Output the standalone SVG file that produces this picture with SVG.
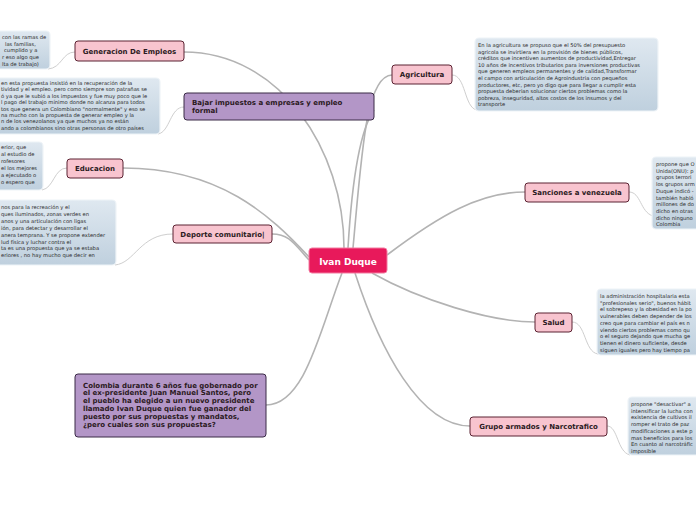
<svg xmlns="http://www.w3.org/2000/svg" width="696" height="520" viewBox="0 0 696 520">
<defs>
<linearGradient id="note" x1="0" y1="0" x2="0" y2="1">
<stop offset="0" stop-color="#dfe8f0"/>
<stop offset="1" stop-color="#bfd0de"/>
</linearGradient>
<style>
.bg{fill:#ffffff}
.main{fill:none;stroke:#b3b3b3;stroke-width:1.6}
.sub{fill:none;stroke:#cfcfcf;stroke-width:1}
.note{fill:url(#note);stroke:#eef3f7;stroke-width:1.2}
.nt{font-family:"DejaVu Sans",Verdana,sans-serif;font-size:5.2px;fill:#2a2a2a}
.pink{fill:#f8c4cf;stroke:#5b2232;stroke-width:1}
.purple{fill:#b396c7;stroke:#3a2a46;stroke-width:1}
.lbl{font-family:"DejaVu Sans",Verdana,sans-serif;font-size:7px;font-weight:bold;fill:#2b1a22}
.center{fill:#e8195b;stroke:#f27aa0;stroke-width:1}
.ctext{font-family:"DejaVu Sans",Verdana,sans-serif;font-size:9px;font-weight:bold;fill:#ffffff}
</style>
</defs>
<rect class="bg" x="0" y="0" width="696" height="520"/>

<g id="connectors">
<path class="main" d="M344,248 C344,150 280,52 184,52"/>
<path class="main" d="M348,248 C352,180 360,130 374,110"/>
<path class="main" d="M353,248 C362,150 366,76 392,75"/>
<path class="main" d="M309,257 C270,215 220,168 123,168"/>
<path class="main" d="M309,260 C295,245 290,234 272,234"/>
<path class="main" d="M342,273 C320,330 305,405 266,405"/>
<path class="main" d="M387,255 C440,215 480,192 525,192"/>
<path class="main" d="M372,273 C420,300 490,322 535,322"/>
<path class="main" d="M355,273 C380,350 420,426 470,426"/>
<path class="sub" d="M75,52 C62,52 62,68 48,69"/>
<path class="sub" d="M184,107 C170,107 170,132 158,134"/>
<path class="sub" d="M67,168 C54,168 54,188 42,190"/>
<path class="sub" d="M173,234 C140,234 135,263 115,265"/>
<path class="sub" d="M452,75 C466,75 464,108 477,110"/>
<path class="sub" d="M629,192 C641,192 640,212 653,216"/>
<path class="sub" d="M572,322 C586,322 584,352 598,354"/>
<path class="sub" d="M607,426 C618,426 617,452 630,455"/>
</g>

<g id="note-empleos">
<rect class="note" x="-20" y="31" width="70" height="38" rx="4"/>
<text class="nt" x="2" y="39">con las ramas de</text>
<text class="nt" x="5" y="45.7">las familias,</text>
<text class="nt" x="4" y="52.4">cumplido y a</text>
<text class="nt" x="2" y="59.1">r eso algo que</text>
<text class="nt" x="2" y="65.8">lta de trabajo)</text>
</g>

<g id="note-impuestos">
<rect class="note" x="-20" y="78" width="180" height="56" rx="4"/>
<text class="nt" x="1" y="85">en esta propuesta insistió en la recuperación de la</text>
<text class="nt" x="1" y="91.4">tividad y el empleo. pero como siempre son patrañas se</text>
<text class="nt" x="1" y="97.8">ó ya que le subió a los impuestos y fue muy poco que le</text>
<text class="nt" x="1" y="104.2">l pago del trabajo mínimo donde no alcanza para todos</text>
<text class="nt" x="1" y="110.6">tos que genera un Colombiano "normalmente" y eso se</text>
<text class="nt" x="1" y="117">na mucho con la propuesta de generar empleo y la</text>
<text class="nt" x="1" y="123.4">n de los venezolanos ya que muchos ya no están</text>
<text class="nt" x="1" y="129.8">ando a colombianos sino otras personas de otro países</text>
</g>

<g id="note-educacion">
<rect class="note" x="-20" y="142" width="63" height="48" rx="4"/>
<text class="nt" x="1" y="149">erior, que</text>
<text class="nt" x="1" y="156">al estudio de</text>
<text class="nt" x="1" y="163">rofesores</text>
<text class="nt" x="1" y="170">el los mejores</text>
<text class="nt" x="1" y="177">a ejecutado o</text>
<text class="nt" x="1" y="184">o espero que</text>
</g>

<g id="note-deporte">
<rect class="note" x="-20" y="200" width="136" height="65" rx="4"/>
<text class="nt" x="1" y="209">nos para la recreación y el</text>
<text class="nt" x="1" y="215.9">ques iluminados, zonas verdes en</text>
<text class="nt" x="1" y="222.8">anos y una articulación con ligas</text>
<text class="nt" x="1" y="229.7">ión, para detectar y desarrollar el</text>
<text class="nt" x="1" y="236.6">anera temprana. Y se propone extender</text>
<text class="nt" x="1" y="243.5">lud física y luchar contra el</text>
<text class="nt" x="1" y="250.4">ta es una propuesta que ya se estaba</text>
<text class="nt" x="1" y="257.3">eriores , no hay mucho que decir en</text>
</g>

<g id="note-agricultura">
<rect class="note" x="475" y="38" width="183" height="73" rx="4"/>
<text class="nt" x="478" y="47">En la agricultura se propuso que el 50% del presupuesto</text>
<text class="nt" x="478" y="53.6">agricola se invirtiera en la provisión de bienes públicos,</text>
<text class="nt" x="478" y="60.2">créditos que incentiven aumentos de productividad,Entregar</text>
<text class="nt" x="478" y="66.8">10 años de incentivos tributarios para inversiones productivas</text>
<text class="nt" x="478" y="73.4">que generen empleos permanentes y de calidad,Transformar</text>
<text class="nt" x="478" y="80">el campo con articulación de Agroindustria con pequeños</text>
<text class="nt" x="478" y="86.6">productores, etc, pero yo digo que para llegar a cumplir esta</text>
<text class="nt" x="478" y="93.2">propuesta deberian solucionar ciertos problemas como la</text>
<text class="nt" x="478" y="99.8">pobreza, inseguridad, altos costos de los insumos y del</text>
<text class="nt" x="478" y="106.4">transporte</text>
</g>

<g id="note-sanciones">
<rect class="note" x="652" y="157" width="60" height="72" rx="4"/>
<text class="nt" x="656" y="166">propone que O</text>
<text class="nt" x="656" y="172.7">Unida(ONU): p</text>
<text class="nt" x="656" y="179.4">grupos terrori</text>
<text class="nt" x="656" y="186.1">los grupos arm</text>
<text class="nt" x="656" y="192.8">Duque indicó -</text>
<text class="nt" x="656" y="199.5">también habló</text>
<text class="nt" x="656" y="206.2">millones de do</text>
<text class="nt" x="656" y="212.9">dicho en otras</text>
<text class="nt" x="656" y="219.6">dicho ninguno</text>
<text class="nt" x="656" y="226.3">Colombia</text>
</g>

<g id="note-salud">
<rect class="note" x="597" y="289" width="115" height="66" rx="4"/>
<text class="nt" x="600" y="298">la  administración hospitalaria esta</text>
<text class="nt" x="600" y="304.7">"profesionales serio", buenos hábit</text>
<text class="nt" x="600" y="311.4">el sobrepeso y la obesidad en la po</text>
<text class="nt" x="600" y="318.1">vulnerables deben depender de los</text>
<text class="nt" x="600" y="324.8">creo que para cambiar el país es n</text>
<text class="nt" x="600" y="331.5">viendo ciertos problemas como qu</text>
<text class="nt" x="600" y="338.2">o el seguro dejando que mucha ge</text>
<text class="nt" x="600" y="344.9">tienen el dinero suficiente, desde</text>
<text class="nt" x="600" y="351.6">siguen iguales pero hay tiempo pa</text>
</g>

<g id="note-grupos">
<rect class="note" x="628" y="397" width="84" height="58" rx="4"/>
<text class="nt" x="631" y="406">propone "desactivar" a</text>
<text class="nt" x="631" y="412.7">intensificar la lucha con</text>
<text class="nt" x="631" y="419.4">existencia de cultivos il</text>
<text class="nt" x="631" y="426.1">romper el trato de paz</text>
<text class="nt" x="631" y="432.8">modificaciones a este p</text>
<text class="nt" x="631" y="439.5">mas beneficios para los</text>
<text class="nt" x="631" y="446.2">En cuanto al narcotráfic</text>
<text class="nt" x="631" y="452.9">imposible</text>
</g>

<g id="node-generacion">
<rect class="pink" x="75" y="41" width="109" height="20" rx="3"/>
<text class="lbl" x="129.5" y="54" text-anchor="middle">Generacion De Empleos</text>
</g>

<g id="node-impuestos">
<rect class="purple" x="184" y="93" width="190" height="27" rx="3"/>
<text class="lbl" x="192" y="104.5">Bajar impuestos a empresas y empleo</text>
<text class="lbl" x="192" y="112.5">formal</text>
</g>

<g id="node-educacion">
<rect class="pink" x="67" y="159" width="56" height="19" rx="3"/>
<text class="lbl" x="95" y="171" text-anchor="middle">Educacion</text>
</g>

<g id="node-deporte">
<rect class="pink" x="173" y="225" width="99" height="18" rx="3"/>
<text class="lbl" x="222.5" y="236.5" text-anchor="middle">Deporte comunitario|</text>
</g>

<g id="node-colombia">
<rect class="purple" x="75" y="374" width="191" height="63" rx="3"/>
<text class="lbl" x="83" y="387.5">Colombia durante 6 años fue gobernado por</text>
<text class="lbl" x="83" y="395.3">el ex-presidente Juan Manuel Santos, pero</text>
<text class="lbl" x="83" y="403.1">el pueblo ha  elegido a un nuevo presidente</text>
<text class="lbl" x="83" y="410.9">llamado Ivan Duque quien fue ganador del</text>
<text class="lbl" x="83" y="418.7">puesto por sus propuestas y mandatos,</text>
<text class="lbl" x="83" y="426.5">¿pero cuales son sus propuestas?</text>
</g>

<g id="node-ivan">
<rect class="center" x="309" y="248" width="78" height="25" rx="3"/>
<text class="ctext" x="348" y="264.5" text-anchor="middle">Ivan Duque</text>
</g>

<g id="node-agricultura">
<rect class="pink" x="392" y="65" width="60" height="19" rx="3"/>
<text class="lbl" x="422" y="77" text-anchor="middle">Agricultura</text>
</g>

<g id="node-sanciones">
<rect class="pink" x="525" y="183" width="104" height="19" rx="3"/>
<text class="lbl" x="577" y="195" text-anchor="middle">Sanciones a venezuela</text>
</g>

<g id="node-salud">
<rect class="pink" x="535" y="313" width="37" height="19" rx="3"/>
<text class="lbl" x="553.5" y="325" text-anchor="middle">Salud</text>
</g>

<g id="node-grupos">
<rect class="pink" x="470" y="417" width="137" height="19" rx="3"/>
<text class="lbl" x="538.5" y="429" text-anchor="middle">Grupo armados y Narcotrafico</text>
</g>
</svg>
